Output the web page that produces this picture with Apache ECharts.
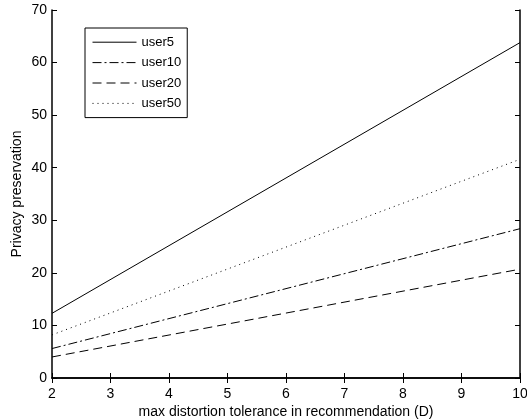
<html>
<head>
    <style>
        * { margin: 0; padding: 0; }
        #chart { width: 527px; height: 419px; }
    </style>
</head>
<body>
<div id="chart"></div>
<script src="https://cdn.jsdelivr.net/npm/echarts@6.0.0/dist/echarts.min.js"></script>
<script>
    // (lines are straight, so the end points are given)
    var xs = [2, 10];
    var user5 = [12.3, 63.8];
    var user10 = [5.6, 28.4];
    var user20 = [4.0, 20.7];
    var user50 = [8.2, 41.6];
    var names = ['user5', 'user10', 'user20', 'user50'];
    var dashes = ['solid', [9, 3, 2, 3], [9, 5], [1, 4]];

    function pairs(ys) {
        return xs.map(function (x, i) { return [x, ys[i]]; });
    }

    var font = 'Liberation Sans, Arial, sans-serif';
    var chart = echarts.init(document.getElementById('chart'), null, { renderer: 'canvas' });

    var tick = { show: true, inside: true, length: 5, lineStyle: { color: '#000', width: 1 } };
    var line = { show: true, lineStyle: { color: '#000', width: 1.5 } };

    var option = {
        animation: false,
        grid: { left: 52, right: 7, top: 10, bottom: 41, outerBoundsMode: 'none', containLabel: false },
        legend: {
            left: 85, top: 28,
            orient: 'vertical',
            itemWidth: 44, itemHeight: 8, itemGap: -2,
            padding: [3, 6, 3, 7],
            borderColor: '#000', borderWidth: 1,
            backgroundColor: '#fff',
            itemStyle: { opacity: 0 },
            lineStyle: { width: 1 },
            textStyle: { fontFamily: font, fontSize: 13, color: '#000', lineHeight: 14 },
            data: names
        },
        xAxis: [{
            type: 'value', min: 2, max: 10, interval: 1,
            name: 'max distortion tolerance in recommendation (D)',
            nameLocation: 'middle', nameGap: 22, nameMoveOverlap: false,
            nameTextStyle: { fontFamily: font, fontSize: 14, color: '#000' },
            axisLine: line, axisTick: tick, splitLine: { show: false },
            axisLabel: { fontFamily: font, fontSize: 14, color: '#000', margin: 4 }
        }, {
            type: 'value', min: 2, max: 10, interval: 1, position: 'top',
            axisLine: line, axisTick: tick, splitLine: { show: false },
            axisLabel: { show: false }
        }],
        yAxis: [{
            type: 'value', min: 0, max: 70, interval: 10,
            name: 'Privacy preservation',
            nameLocation: 'middle', nameGap: 23, nameMoveOverlap: false,
            nameTextStyle: { fontFamily: font, fontSize: 14, color: '#000' },
            axisLine: line, axisTick: tick, splitLine: { show: false },
            axisLabel: { fontFamily: font, fontSize: 14, color: '#000', margin: 5 }
        }, {
            type: 'value', min: 0, max: 70, interval: 10, position: 'right',
            axisLine: line, axisTick: tick, splitLine: { show: false },
            axisLabel: { show: false }
        }],
        series: [user5, user10, user20, user50].map(function (ys, i) {
            return {
                name: names[i],
                type: 'line',
                data: pairs(ys),
                showSymbol: false,
                symbol: 'none',
                color: '#000',
                lineStyle: { color: '#000', width: 1, type: dashes[i] }
            };
        })
    };

    chart.setOption(option);
    window.addEventListener('resize', chart.resize);
</script>
</body>
</html>
